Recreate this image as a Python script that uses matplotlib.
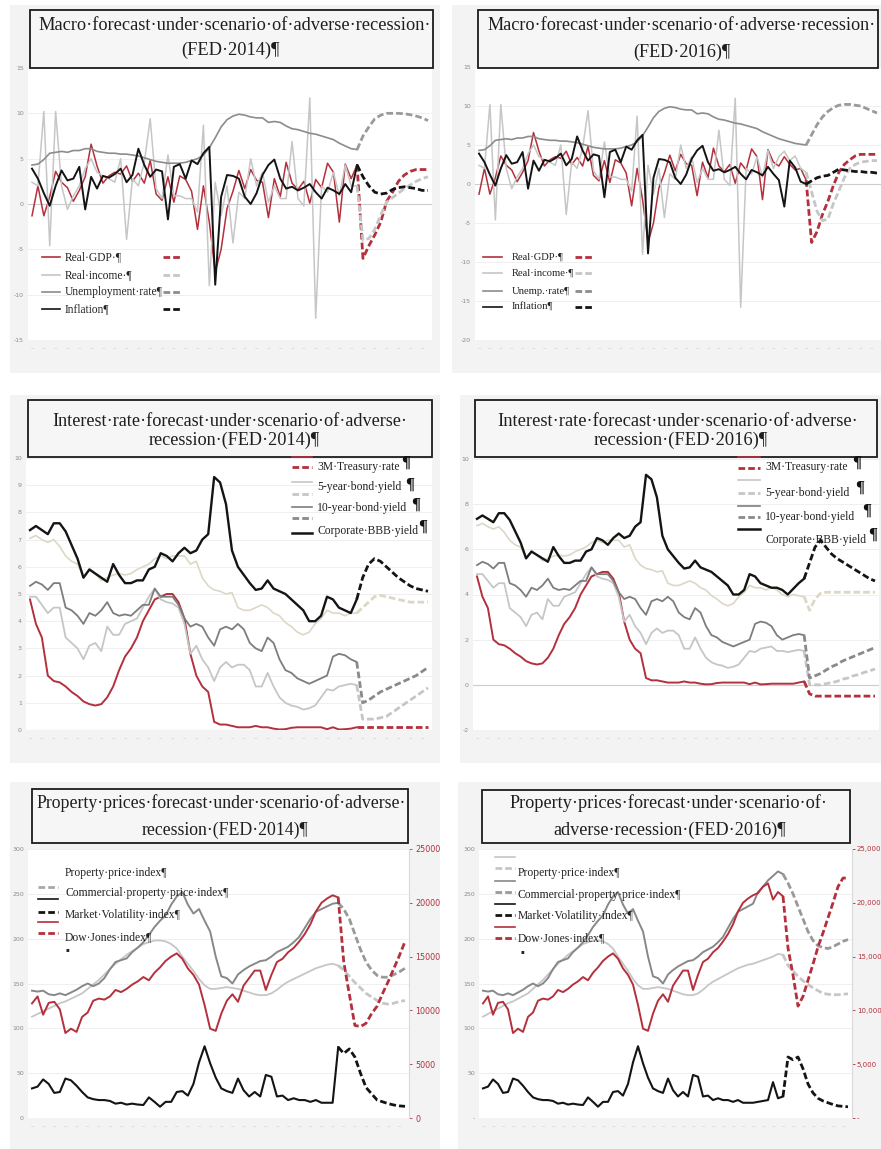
import numpy as np
import matplotlib
matplotlib.use("Agg")
import matplotlib.pyplot as plt
from matplotlib.patches import Rectangle
from matplotlib.lines import Line2D

# ---------------- DATA (quarterly) ----------------
# Macro, FED 2014 (history idx 0..55, forecast idx 55..67)
GDP14_HIST = [-1.3, 2.0, -1.3, 0.8, 3.6, 2.4, 1.8, 0.3, 1.5, 3.0, 6.6, 4.2, 2.3, 3.1, 3.5, 3.3,
              4.2, 2.5, 3.4, 2.3, 4.8, 1.1, 0.4, 3.0, 0.2, 3.1, 2.7, 1.4, -2.8, 2.0, -2.0, -7.5,
              -5.0, -0.5, 1.4, 3.7, 1.7, 3.8, 2.6, 2.4, -1.5, 2.8, 0.8, 4.6, 2.3, 1.6, 2.5, 0.1,
              2.7, 1.8, 4.5, 3.5, -2.0, 4.4, 2.8, 4.3]
GDP14_FC = [4.3, -6.0, -4.6, -3.4, -2.0, 0.3, 1.3, 2.5, 3.2, 3.6, 3.8, 3.8, 3.8]
INCOME14_HIST = [2.4, 2.0, 10.2, -4.6, 10.2, 2.0, -0.6, 0.9, 2.0, 3.9, 5.0, 3.5, 3.1, 2.8, 2.4, 5.0,
                 -3.9, 2.8, 2.0, 4.6, 9.4, 1.7, 0.6, 5.4, 0.9, 0.9, 0.6, 0.6, -0.9, 8.7, -9.0, 2.4,
                 -1.3, 2.0, -4.3, 1.3, 0.6, 5.0, 2.0, 3.5, 0.2, 2.0, 0.6, 0.6, 6.9, 0.6, -0.2, 11.7,
                 -12.6, 2.0, 1.3, 3.5, 0.9, 4.3, 2.0, 2.0]
INCOME14_FC = [2.0, -4.0, -3.8, -2.8, -1.2, 0.2, 0.7, 1.2, 1.7, 2.1, 2.5, 2.8, 3.0]
UNEMP14_HIST = [4.3, 4.4, 4.9, 5.6, 5.7, 5.8, 5.7, 5.9, 5.9, 6.1, 6.1, 5.8, 5.7, 5.6, 5.6, 5.5,
                5.5, 5.4, 5.3, 5.1, 4.9, 4.7, 4.6, 4.5, 4.5, 4.5, 4.6, 4.8, 5.0, 5.4, 6.2, 7.3,
                8.5, 9.3, 9.7, 9.9, 9.8, 9.6, 9.5, 9.5, 9.0, 9.1, 9.0, 8.6, 8.3, 8.2, 8.0, 7.8,
                7.7, 7.5, 7.3, 7.1, 6.7, 6.4, 6.1, 6.0]
UNEMP14_FC = [6.0, 7.5, 8.5, 9.4, 9.8, 10.0, 10.0, 10.0, 9.95, 9.85, 9.7, 9.5, 9.2]
INFL14_HIST = [3.9, 2.8, 1.2, -0.2, 2.0, 3.7, 2.6, 2.8, 4.1, -0.6, 3.0, 1.7, 3.1, 2.9, 3.3, 3.9,
               2.4, 3.2, 6.1, 4.3, 3.0, 3.8, 3.6, -1.7, 4.1, 4.4, 2.8, 4.8, 4.4, 5.6, 6.3, -8.9,
               0.8, 3.2, 3.1, 2.8, 0.8, 0.0, 1.2, 3.2, 4.3, 4.9, 2.8, 1.7, 1.9, 1.5, 1.8, 2.2,
               1.3, 0.6, 1.8, 1.5, 1.1, 2.2, 1.3, 4.3]
INFL14_FC = [4.3, 3.0, 2.0, 1.3, 1.1, 1.2, 1.6, 1.8, 1.9, 1.8, 1.7, 1.5, 1.5]

# Macro, FED 2016 (history idx 0..60, forecast idx 60..73)
GDP16_NEW = [2.3, 3.5, 2.5, 1.8, 2.0, 0.5]
GDP16_FC = [0.5, -7.5, -6.1, -3.9, -2.2, -0.2, 1.5, 2.5, 3.1, 3.6, 3.8, 3.8, 3.8, 3.8]
INCOME16_SPIKE = [11.0, -15.8]
INCOME16_NEW = [3.5, 4.2, 3.0, 3.6, 2.0, 1.5]
INCOME16_FC = [1.5, -1.0, -3.5, -4.7, -4.5, -2.5, -0.9, 0.8, 2.0, 2.5, 2.8, 2.9, 3.0, 3.0]
UNEMP16_NEW = [5.8, 5.6, 5.4, 5.2, 5.1, 5.0]
UNEMP16_FC = [5.0, 6.3, 7.6, 8.6, 9.3, 9.8, 10.1, 10.2, 10.2, 10.1, 10.0, 9.7, 9.4, 9.1]
INFL16_NEW = [0.5, -2.9, 3.0, 2.1, 0.3, 0.0]
INFL16_FC = [0.0, 0.4, 0.8, 1.0, 1.1, 1.5, 1.9, 1.8, 1.7, 1.6, 1.6, 1.5, 1.5, 1.4]

# Interest rates, FED 2014
TB3M14_HIST = [4.8, 3.9, 3.4, 2.0, 1.8, 1.75, 1.6, 1.4, 1.25, 1.05, 0.95, 0.9, 0.95, 1.2, 1.6, 2.2,
               2.7, 3.0, 3.4, 4.0, 4.4, 4.8, 4.9, 5.0, 5.0, 4.7, 4.1, 2.8, 2.0, 1.6, 1.4, 0.3,
               0.2, 0.2, 0.15, 0.1, 0.1, 0.1, 0.15, 0.1, 0.1, 0.05, 0.02, 0.03, 0.08, 0.1, 0.1, 0.1,
               0.1, 0.1, 0.03, 0.1, 0.02, 0.03, 0.05, 0.1]
TB3M14_FC = [0.1, 0.1, 0.1, 0.1, 0.1, 0.1, 0.1, 0.1, 0.1, 0.1, 0.1, 0.1, 0.1]
FIVE14_HIST = [4.9, 4.9, 4.6, 4.3, 4.5, 4.5, 3.4, 3.2, 3.0, 2.6, 3.1, 3.2, 2.9, 3.8, 3.5, 3.5,
               3.9, 4.0, 4.1, 4.5, 4.9, 5.2, 4.8, 4.7, 4.65, 4.5, 3.9, 2.8, 3.1, 2.6, 2.3, 1.8,
               2.3, 2.5, 2.3, 2.4, 2.4, 2.2, 1.6, 1.6, 2.1, 1.6, 1.2, 1.0, 0.9, 0.85, 0.75, 0.8,
               0.9, 1.2, 1.5, 1.45, 1.6, 1.65, 1.7, 1.65]
FIVE14_FC = [1.65, 0.4, 0.4, 0.4, 0.45, 0.5, 0.65, 0.8, 0.95, 1.1, 1.25, 1.4, 1.55]
TEN14_HIST = [5.3, 5.45, 5.35, 5.15, 5.4, 5.4, 4.5, 4.4, 4.2, 3.9, 4.3, 4.2, 4.4, 4.7, 4.3, 4.2,
              4.25, 4.2, 4.4, 4.6, 4.6, 5.2, 4.9, 4.9, 4.9, 4.6, 4.1, 3.8, 3.9, 3.8, 3.4, 3.1,
              3.7, 3.8, 3.7, 3.9, 3.7, 3.2, 3.0, 2.9, 3.4, 3.2, 2.6, 2.2, 2.1, 1.9, 1.8, 1.7,
              1.8, 1.9, 2.0, 2.7, 2.8, 2.75, 2.6, 2.5]
TEN14_FC = [2.5, 1.0, 1.1, 1.25, 1.4, 1.5, 1.6, 1.7, 1.8, 1.9, 2.0, 2.15, 2.3]
BBB14_HIST = [7.35, 7.5, 7.35, 7.2, 7.6, 7.6, 7.3, 6.8, 6.3, 5.6, 5.9, 5.75, 5.6, 5.45, 6.1, 5.7,
              5.4, 5.4, 5.5, 5.5, 5.9, 6.0, 6.5, 6.4, 6.2, 6.5, 6.7, 6.5, 6.6, 7.0, 7.2, 9.3,
              9.1, 8.3, 6.6, 6.0, 5.7, 5.4, 5.15, 5.2, 5.5, 5.2, 5.1, 5.0, 4.8, 4.6, 4.4, 4.0,
              4.0, 4.2, 4.9, 4.8, 4.5, 4.4, 4.3, 4.8]
BBB14_FC = [4.8, 5.6, 6.1, 6.3, 6.2, 6.0, 5.8, 5.6, 5.45, 5.3, 5.2, 5.15, 5.1]
MORT14_HIST = [7.05, 7.15, 7.0, 6.9, 7.0, 6.75, 6.4, 6.2, 6.1, 5.6, 5.95, 5.75, 5.5, 5.6, 5.7, 5.75,
               5.7, 5.75, 5.9, 6.0, 6.1, 6.3, 6.4, 6.3, 6.4, 6.4, 6.4, 6.1, 6.2, 5.6, 5.3, 5.15,
               5.1, 5.0, 5.05, 4.5, 4.4, 4.4, 4.5, 4.6, 4.5, 4.3, 4.2, 3.95, 3.8, 3.6, 3.5, 3.6,
               3.9, 4.1, 4.4, 4.3, 4.3, 4.2, 4.3, 4.3]
MORT14_FC = [4.3, 4.5, 4.7, 4.9, 4.95, 4.9, 4.85, 4.8, 4.75, 4.7, 4.7, 4.7, 4.7]

# Interest rates, FED 2016
TB3M16_NEW = [0.05, 0.05, 0.05, 0.05, 0.1, 0.15]
TB3M16_FC = [0.15, -0.4, -0.5, -0.5, -0.5, -0.5, -0.5, -0.5, -0.5, -0.5, -0.5, -0.5, -0.5, -0.5]
FIVE16_NEW = [1.5, 1.5, 1.45, 1.5, 1.55, 1.5]
FIVE16_FC = [1.5, 0.0, 0.0, 0.0, 0.05, 0.1, 0.15, 0.25, 0.3, 0.4, 0.45, 0.55, 0.62, 0.7]
TEN16_NEW = [2.2, 2.0, 2.1, 2.2, 2.25, 2.2]
TEN16_FC = [2.2, 0.3, 0.4, 0.5, 0.65, 0.8, 0.9, 1.05, 1.15, 1.25, 1.35, 1.45, 1.55, 1.65]
BBB16_NEW = [4.3, 4.2, 4.0, 4.25, 4.5, 4.7]
BBB16_FC = [4.7, 5.4, 6.1, 6.4, 6.1, 5.8, 5.6, 5.45, 5.3, 5.15, 5.0, 4.85, 4.7, 4.6]
MORT16_NEW = [4.2, 4.0, 3.9, 4.0, 3.95, 3.9]
MORT16_FC = [3.9, 3.3, 3.8, 4.05, 4.1, 4.1, 4.1, 4.1, 4.1, 4.1, 4.1, 4.1, 4.1, 4.1]

# Property prices, FED 2014
PROP14_HIST = [113, 116, 119, 122, 125, 128, 130, 133, 136, 139, 144, 149, 154, 160, 166, 172,
               177, 182, 186, 190, 194, 196, 198, 198, 197, 194, 189, 180, 172, 164, 155, 148,
               144, 144, 145, 146, 145, 144, 142, 140, 138, 137, 137, 139, 143, 148, 152, 155,
               158, 161, 164, 167, 169, 171, 172, 170]
PROP14_FC = [170, 165, 158, 151, 145, 139, 135, 131, 128, 127, 128, 130, 131]
COMM14_HIST = [142, 141, 142, 138, 137, 139, 137, 140, 143, 147, 150, 147, 150, 156, 166, 174,
               176, 178, 185, 190, 196, 204, 213, 220, 226, 238, 247, 252, 238, 228, 233, 220,
               208, 180, 158, 156, 150, 160, 165, 169, 172, 175, 176, 180, 185, 188, 191, 196,
               202, 212, 222, 230, 233, 236, 239, 240]
COMM14_FC = [240, 233, 222, 205, 188, 174, 165, 159, 157, 157, 160, 163, 167]
VIX14_HIST = [33, 35, 43, 38, 28, 29, 44, 42, 36, 29, 23, 21, 20, 20, 19, 16,
              17, 15, 16, 15, 14.5, 23, 18, 12.6, 18, 18, 29, 30, 25, 38, 62, 80,
              61, 45, 33, 30, 28, 44, 31, 24, 29, 24, 48, 46, 24, 25, 20, 22,
              20, 20, 18, 20, 17, 17, 17, 79]
VIX14_FC = [79, 72, 77, 68, 50, 34, 27, 20, 18, 16, 14.5, 13.5, 13]
DOW14_HIST = [10650, 11300, 9600, 10700, 10800, 10100, 7900, 8300, 8000, 9400, 9800, 10900,
              11100, 11000, 11300, 11900, 11700, 12000, 12400, 12700, 13100, 12800, 13500,
              14000, 14600, 15000, 15300, 14800, 13900, 13300, 12400, 10500, 8300, 8100, 9700,
              10900, 11500, 10800, 12300, 13000, 13700, 13700, 11900, 13300, 14500, 14800,
              15400, 15800, 16400, 17100, 18000, 19200, 20000, 20400, 20700, 20500]
DOW14_FC = [20500, 14500, 11500, 8600, 8500, 8800, 9700, 10400, 11600, 12700, 13900, 15100, 16400]

# Property prices, FED 2016
PROP16_NEW = [174, 176, 178, 180, 183, 182]
PROP16_FC = [182, 170, 164, 158, 153, 149, 145, 142, 139, 138, 137.5, 137.5, 138, 138.5]
COMM16_NEW = [252, 258, 265, 270, 275, 272]
COMM16_FC = [272, 262, 250, 236, 222, 208, 198, 192, 190, 189, 191, 194, 197, 199]
VIX16_NEW = [18, 19, 20, 40, 22, 24]
VIX16_FC = [24, 68, 65, 68, 55, 38, 28, 22, 19, 17, 15, 13.5, 13, 12.5]
DOW16_NEW = [20900, 21500, 21800, 20300, 21000, 20600]
DOW16_FC = [20600, 15800, 13300, 10400, 11300, 12800, 14300, 15900, 17200, 18600, 20000, 21500,
            22300, 22300]

MACRO_TICKS_14 = [-15, -10, -5, 0, 5, 10, 15]
MACRO_TICKS_16 = [-20, -15, -10, -5, 0, 5, 10, 15]
RATE_TICKS_14 = list(range(0, 11))
RATE_TICKS_16 = [-2, 0, 2, 4, 6, 8, 10]
PROP_TICKS = [0, 50, 100, 150, 200, 250, 300]
DOW_TICKS = [0, 5000, 10000, 15000, 20000, 25000]

# assemble 2016 histories (same history as 2014 plus later quarters)
GDP16_HIST = GDP14_HIST[:55] + GDP16_NEW
INCOME16_HIST = INCOME14_HIST[:47] + INCOME16_SPIKE + INCOME14_HIST[49:55] + INCOME16_NEW
UNEMP16_HIST = UNEMP14_HIST[:55] + UNEMP16_NEW
INFL16_HIST = INFL14_HIST[:55] + INFL16_NEW
TB3M16_HIST = TB3M14_HIST[:55] + TB3M16_NEW
FIVE16_HIST = FIVE14_HIST[:55] + FIVE16_NEW
TEN16_HIST = TEN14_HIST[:55] + TEN16_NEW
BBB16_HIST = BBB14_HIST[:55] + BBB16_NEW
MORT16_HIST = MORT14_HIST[:55] + MORT16_NEW
PROP16_HIST = PROP14_HIST[:55] + PROP16_NEW
COMM16_HIST = COMM14_HIST[:55] + COMM16_NEW
VIX16_HIST = VIX14_HIST[:55] + VIX16_NEW
DOW16_HIST = DOW14_HIST[:55] + DOW16_NEW

# ---------------- STYLE ----------------
W, H = 881, 1149
fig = plt.figure(figsize=(W / 100, H / 100), dpi=100)
fig.patch.set_facecolor('white')
renderer = fig.canvas.get_renderer()

RED = '#b3303c'
LGRAY = '#c6c6c6'
MGRAY = '#8c8c8c'
BLACK = '#141414'
PALE = '#ddd7c6'
TICKC = '#8a8a8a'
SERIF = ['Liberation Serif', 'DejaVu Serif']
DASH = (0, (2.4, 1.1))


def fx(x):
    return x / W


def fy(y):
    return 1 - y / H


def bg(x0, y0, x1, y1):
    fig.add_artist(Rectangle((fx(x0), fy(y1)), (x1 - x0) / W, (y1 - y0) / H,
                             transform=fig.transFigure, facecolor='#f3f3f3',
                             edgecolor='none', zorder=-10))


def make_ax(ds, de, yt, yb, n, ylo, yhi, ticks, labels, zero=None, pad=4, lpad=3):
    step = (de - ds) / (n - 1)
    ax = fig.add_axes([fx(ds - pad), fy(yb), (de - ds + 2 * pad) / W, (yb - yt) / H])
    ax.set_xlim(-pad / step, n - 1 + pad / step)
    ax.set_ylim(ylo, yhi)
    ax.set_facecolor('white')
    for s in ax.spines.values():
        s.set_visible(False)
    ax.set_xticks([])
    ax.set_yticks(ticks)
    ax.set_yticklabels(labels)
    ax.tick_params(axis='y', length=0, labelsize=4.5, labelcolor=TICKC, pad=lpad)
    for t in ticks:
        ax.axhline(t, color='#ececec', lw=0.6, zorder=0)
    if zero is not None:
        ax.axhline(zero, color='#cdcdcd', lw=0.8, zorder=0.5)
    # category labels rendered as tiny dashes
    frac = -8.0 / (yb - yt)
    for i in range(0, n, 2):
        ax.text(i, frac, '–', transform=ax.get_xaxis_transform(), ha='center', va='center',
                fontsize=5, color='#c9c9c9', clip_on=False)
    return ax


def series(ax, hist, fc, color, lw=1.2, lwf=2.0, fcolor=None):
    xh = np.arange(len(hist))
    ax.plot(xh, hist, color=color, lw=lw, solid_joinstyle='round')
    xf = np.arange(len(hist) - 1, len(hist) - 1 + len(fc))
    ax.plot(xf, fc, color=fcolor or color, lw=lwf, linestyle=DASH)


def title(box, l1, span, y1, l2, cx2, y2, size=12):
    x0, yb0, x1, yb1 = box
    fig.add_artist(Rectangle((fx(x0), fy(yb1)), (x1 - x0) / W, (yb1 - yb0) / H,
                             transform=fig.transFigure, facecolor='#f6f6f6',
                             edgecolor='#1c1c1c', lw=1.3, zorder=5))
    t = fig.text(fx((span[0] + span[1]) / 2), fy(y1), l1, ha='center', va='center',
                 family=SERIF, fontsize=size, color='#1e1e1e', zorder=6)
    w = t.get_window_extent(renderer).width
    s2 = size * (span[1] - span[0]) / w
    t.set_fontsize(s2)
    fig.text(fx(cx2), fy(y2), l2, ha='center', va='center', family=SERIF, fontsize=s2,
             color='#1e1e1e', zorder=6)


def lsample(x0, x1, y, color, dashed=False, lw=1.2):
    fig.add_artist(Line2D([fx(x0), fx(x1)], [fy(y), fy(y)], transform=fig.transFigure,
                          color=color, lw=(2.0 if dashed else lw),
                          linestyle=(DASH if dashed else '-'), zorder=6))


def fit_size(s, width, size=10.0):
    t = fig.text(0, 0, s, family=SERIF, fontsize=size)
    w = t.get_window_extent(renderer).width
    t.remove()
    return size * width / w


def ltext(x, y, s, size=8.4, color='#222222'):
    return fig.text(fx(x), fy(y), s, ha='left', va='center', family=SERIF, fontsize=size,
                    color=color, zorder=6)


def pilcrow(x, y, size=12):
    fig.text(fx(x), fy(y), '¶', ha='center', va='center', family=SERIF, fontsize=size,
             color='#111111', fontweight='bold', zorder=6)


# panel backgrounds
bg(10, 5, 440, 373)
bg(452, 5, 881, 373)
bg(10, 395, 440, 763)
bg(460, 395, 881, 763)
bg(10, 782, 440, 1149)
bg(458, 782, 881, 1149)

# ---------------- PANEL 1: Macro 2014 ----------------
ax = make_ax(32, 428, 68, 340, 68, -15, 15, MACRO_TICKS_14,
             [str(t) for t in MACRO_TICKS_14], zero=0)
series(ax, GDP14_HIST, GDP14_FC, RED, lw=1.1)
series(ax, INCOME14_HIST, INCOME14_FC, LGRAY, lw=1.1)
series(ax, UNEMP14_HIST, UNEMP14_FC, MGRAY, lw=1.2, fcolor='#9a9a9a')
series(ax, INFL14_HIST, INFL14_FC, BLACK, lw=1.4)
title((30, 10, 433, 68), 'Macro·forecast·under·scenario·of·adverse·recession·', (39, 430), 26,
      '(FED·2014)¶', 230, 50)
sz = fit_size('Unemployment·rate¶', 98)
for y, c, lab in [(257, RED, 'Real·GDP·¶'), (275, LGRAY, 'Real·income·¶'),
                  (292, MGRAY, 'Unemployment·rate¶'), (309, BLACK, 'Inflation¶')]:
    lsample(42, 60, y, c)
    ltext(65, y, lab, size=sz)
    lsample(163, 182, y, c, dashed=True)

# ---------------- PANEL 2: Macro 2016 ----------------
ax = make_ax(479, 877, 67, 340, 74, -20, 15, MACRO_TICKS_16,
             [str(t) for t in MACRO_TICKS_16], zero=0)
series(ax, GDP16_HIST, GDP16_FC, RED, lw=1.1)
series(ax, INCOME16_HIST, INCOME16_FC, LGRAY, lw=1.1)
series(ax, UNEMP16_HIST, UNEMP16_FC, MGRAY, lw=1.2, fcolor='#9a9a9a')
series(ax, INFL16_HIST, INFL16_FC, BLACK, lw=1.4)
title((478, 10, 878, 68), 'Macro·forecast·under·scenario·of·adverse·recession·', (488, 876), 25,
      '(FED·2016)¶', 682, 52)
sz = fit_size('Real·income·¶', 62)
for y, c, lab in [(257, RED, 'Real·GDP·¶'), (273, LGRAY, 'Real·income·¶'),
                  (291, MGRAY, 'Unemp.·rate¶'), (307, BLACK, 'Inflation¶')]:
    lsample(483, 502, y, c)
    ltext(512, y, lab, size=sz)
    lsample(575, 592, y, c, dashed=True)

# ---------------- PANEL 3: Interest 2014 ----------------
ax = make_ax(30, 428, 458, 730, 68, 0, 10, RATE_TICKS_14,
             [str(t) for t in RATE_TICKS_14], zero=0)
series(ax, MORT14_HIST, MORT14_FC, PALE, lw=1.2)
series(ax, TB3M14_HIST, TB3M14_FC, RED, lw=1.4)
series(ax, FIVE14_HIST, FIVE14_FC, LGRAY, lw=1.3)
series(ax, TEN14_HIST, TEN14_FC, '#7d7d7d', lw=1.3, fcolor='#8a8a8a')
series(ax, BBB14_HIST, BBB14_FC, BLACK, lw=1.7)
title((28, 400, 432, 457), 'Interest·rate·forecast·under·scenario·of·adverse·', (52, 408), 421,
      'recession·(FED·2014)¶', 234, 440)
lsample(292, 312, 456.5, RED)
lsample(292, 312, 467, RED, dashed=True)
lsample(292, 312, 482, LGRAY)
lsample(292, 312, 494, LGRAY, dashed=True)
lsample(292, 312, 507, '#7d7d7d')
lsample(292, 312, 518, '#8a8a8a', dashed=True)
lsample(292, 312, 533, BLACK, lw=1.8)
sz = fit_size('Corporate·BBB·yield', 101)
ltext(317, 467, '3M·Treasury·rate', size=sz)
ltext(317, 487, '5-year·bond·yield', size=sz)
ltext(317, 508, '10-year·bond·yield', size=sz)
ltext(317, 531, 'Corporate·BBB·yield', size=sz)
for x, y in [(406, 463), (410, 485), (416, 505), (423, 527)]:
    pilcrow(x, y)

# ---------------- PANEL 4: Interest 2016 ----------------
ax = make_ax(477, 875, 459, 730, 74, -2, 10, RATE_TICKS_16,
             [str(t) for t in RATE_TICKS_16], zero=0)
series(ax, MORT16_HIST, MORT16_FC, PALE, lw=1.2)
series(ax, TB3M16_HIST, TB3M16_FC, RED, lw=1.4)
series(ax, FIVE16_HIST, FIVE16_FC, LGRAY, lw=1.3)
series(ax, TEN16_HIST, TEN16_FC, '#7d7d7d', lw=1.3, fcolor='#8a8a8a')
series(ax, BBB16_HIST, BBB16_FC, BLACK, lw=1.7)
title((475, 400, 877, 457), 'Interest·rate·forecast·under·scenario·of·adverse·', (498, 858), 421,
      'recession·(FED·2016)¶', 681, 440)
lsample(738, 760, 456.5, RED)
lsample(738, 760, 468, RED, dashed=True)
lsample(738, 760, 480, LGRAY)
lsample(738, 760, 493, LGRAY, dashed=True)
lsample(738, 760, 506, '#7d7d7d')
lsample(738, 760, 517, '#8a8a8a', dashed=True)
lsample(738, 760, 529, BLACK, lw=1.8)
ltext(765, 467, '3M·Treasury·rate', size=sz)
ltext(765, 493, '5-year·bond·yield', size=sz)
ltext(765, 517, '10-year·bond·yield', size=sz)
ltext(765, 540, 'Corporate·BBB·yield', size=sz)
for x, y in [(857, 463), (860, 488), (867, 511), (873, 535)]:
    pilcrow(x, y)


# ---------------- PANELS 5/6: Property ----------------
def prop_panel(ds, de, n, prop_h, prop_f, comm_h, comm_f, vix_h, vix_f, dow_h, dow_f,
               left_labels, right_labels, rsize, rpad):
    ax = make_ax(ds, de, 849, 1118, n, 0, 300, PROP_TICKS, left_labels)
    series(ax, prop_h, prop_f, LGRAY, lw=1.3)
    series(ax, comm_h, comm_f, '#888888', lw=1.4, fcolor='#999999')
    series(ax, vix_h, vix_f, BLACK, lw=1.5)
    ax2 = ax.twinx()
    ax2.set_ylim(0, 25000)
    for k, s in ax2.spines.items():
        s.set_visible(k == 'right')
    ax2.spines['right'].set_color('#d9d9d9')
    ax2.spines['right'].set_linewidth(0.8)
    ax2.set_yticks(DOW_TICKS)
    ax2.set_yticklabels(right_labels)
    ax2.tick_params(axis='y', length=2.5, width=0.6, color=RED, labelcolor=RED,
                    labelsize=rsize, pad=rpad)
    series(ax2, dow_h, dow_f, RED, lw=1.4)
    return ax


prop_panel(32, 405, 68, PROP14_HIST, PROP14_FC, COMM14_HIST, COMM14_FC, VIX14_HIST, VIX14_FC,
           DOW14_HIST, DOW14_FC, [str(t) for t in PROP_TICKS],
           ['0', '5000', '10000', '15000', '20000', '25000'], 5.8, 2)
title((32, 789, 408, 843), 'Property·prices·forecast·under·scenario·of·adverse·', (37, 406), 803,
      'recession·(FED·2014)¶', 225, 830)
sz = fit_size('Commercial·property·price·index¶', 162)
ltext(65, 873, 'Property·price·index¶', size=sz)
lsample(38, 58, 887, '#a8a8a8', dashed=True)
ltext(65, 893, 'Commercial·property·price·index¶', size=sz)
lsample(38, 58, 899, BLACK)
lsample(38, 58, 912, BLACK, dashed=True)
ltext(65, 915, 'Market·Volatility·index¶', size=sz)
lsample(38, 58, 922, RED)
lsample(38, 58, 933, RED, dashed=True)
ltext(65, 937, 'Dow·Jones·index¶', size=sz)
fig.text(fx(67), fy(950), '▪', fontsize=4, color='#222222', ha='center', va='center')

prop_panel(483, 848, 74, PROP16_HIST, PROP16_FC, COMM16_HIST, COMM16_FC, VIX16_HIST, VIX16_FC,
           DOW16_HIST, DOW16_FC, ['-', '50', '100', '150', '200', '250', '300'],
           ['-', '5,000', '10,000', '15,000', '20,000', '25,000'], 5.0, 1)
title((482, 790, 850, 843), 'Property·prices·forecast·under·scenario·of·', (510, 828), 803,
      'adverse·recession·(FED·2016)¶', 670, 830)
lsample(495, 515, 857, LGRAY)
lsample(495, 515, 868, LGRAY, dashed=True)
ltext(518, 873, 'Property·price·index¶', size=sz)
lsample(495, 515, 881, '#888888')
lsample(495, 515, 892, '#999999', dashed=True)
ltext(518, 895, 'Commercial·property·price·index¶', size=sz)
lsample(495, 515, 904, BLACK)
lsample(495, 515, 915, BLACK, dashed=True)
ltext(518, 916, 'Market·Volatility·index¶', size=sz)
lsample(495, 515, 927, RED)
lsample(495, 515, 938, RED, dashed=True)
ltext(518, 938, 'Dow·Jones·index¶', size=sz)
fig.text(fx(522), fy(952), '▪', fontsize=4, color='#222222', ha='center', va='center')

fig.savefig('out.png', dpi=100, facecolor='white')
